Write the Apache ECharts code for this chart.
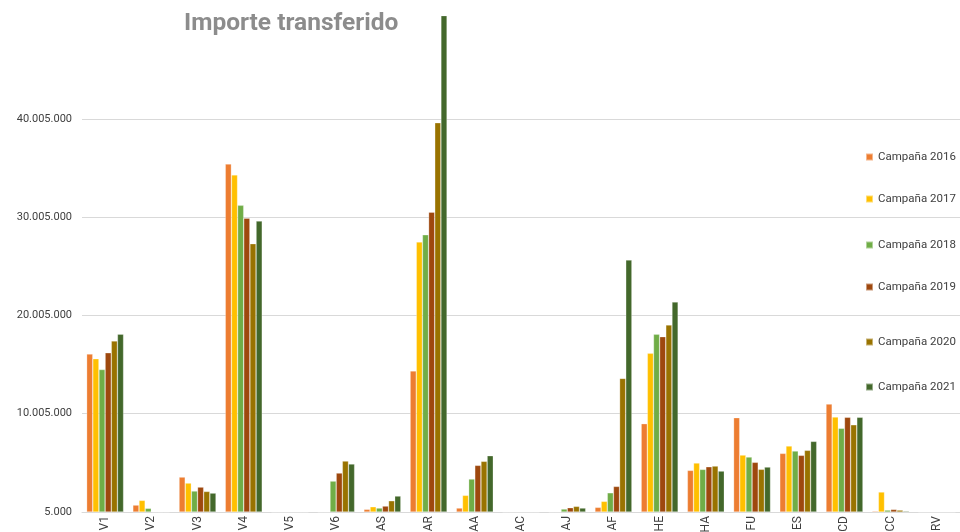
<!DOCTYPE html>
<html>
<head>
<meta charset="utf-8">
<script src="https://cdn.jsdelivr.net/npm/echarts@6/dist/echarts.min.js"></script>
<style>
    html, body { margin: 0; padding: 0; background: #ffffff; }
    #chart-id { width: 960px; height: 532px; }
</style>
</head>
<body>
<div id="chart-id"></div>
<script>
var categories = ['V1', 'V2', 'V3', 'V4', 'V5', 'V6', 'AS', 'AR', 'AA', 'AC', 'AJ', 'AF', 'HE', 'HA', 'FU', 'ES', 'CD', 'CC', 'RV'];
var seriesNames = ['Campaña 2016', 'Campaña 2017', 'Campaña 2018', 'Campaña 2019', 'Campaña 2020', 'Campaña 2021'];

// importes por campaña (euros)
var c2016 = [16070000, 710000, 3560000, 35400000, 0, 0, 280000, 14350000, 410000, 0, 0, 480000, 8990000, 4240000, 9600000, 5970000, 10990000, 100000, 0];
var c2017 = [15600000, 1190000, 2950000, 34300000, 0, 0, 540000, 27470000, 1700000, 0, 0, 1090000, 16150000, 4990000, 5800000, 6720000, 9670000, 2040000, 0];
var c2018 = [14500000, 380000, 2140000, 31200000, 0, 3150000, 410000, 28200000, 3360000, 0, 310000, 1960000, 18080000, 4340000, 5600000, 6210000, 8520000, 200000, 0];
var c2019 = [16200000, 20000, 2540000, 29900000, 0, 3970000, 610000, 30500000, 4750000, 0, 440000, 2610000, 17840000, 4610000, 5060000, 5770000, 9640000, 270000, 0];
var c2020 = [17400000, 0, 2100000, 27300000, 0, 5190000, 1150000, 39600000, 5160000, 0, 580000, 13600000, 19030000, 4680000, 4350000, 6280000, 8880000, 200000, 0];
var c2021 = [18100000, 20000, 1930000, 29600000, 0, 4890000, 1630000, 50500000, 5730000, 0, 410000, 25640000, 21370000, 4170000, 4580000, 7190000, 9640000, 100000, 0];

var colors = ['#ED7D31', '#FFC000', '#70AD47', '#9E480E', '#997300', '#43682B'];
var legendTops = [151, 193, 239, 281, 336, 381];
var baseFont = "Roboto, sans-serif";

function formatMiles(v) {
    return String(Math.round(v)).replace(/\B(?=(\d{3})+(?!\d))/g, '.');
}

function plotImporte(divId) {
    var dom = document.getElementById(divId);
    var myChart = echarts.init(dom, null, { renderer: 'canvas' });
    var option;
    var allData = [c2016, c2017, c2018, c2019, c2020, c2021];

    var series = [];
    var legends = [];
    for (var i = 0; i < seriesNames.length; i++) {
        series.push({
            name: seriesNames[i],
            type: 'bar',
            barGap: '0%',
            barCategoryGap: '20%',
            clip: false,
            itemStyle: {
                color: colors[i],
                borderColor: 'rgba(255,255,255,0.45)',
                borderWidth: 0.6
            },
            data: allData[i]
        });
        legends.push({
            data: [seriesNames[i]],
            left: 865,
            top: legendTops[i],
            padding: 0,
            icon: 'rect',
            itemWidth: 7,
            itemHeight: 7,
            textStyle: {
                fontFamily: baseFont,
                fontSize: 11.5,
                color: '#404040'
            }
        });
    }

    option = {
        backgroundColor: '#ffffff',
        animation: false,
        title: {
            text: 'Importe transferido',
            left: 179,
            top: 6,
            textStyle: {
                fontFamily: baseFont,
                fontWeight: 'bold',
                fontSize: 24.5,
                color: '#8c8c8c'
            }
        },
        legend: legends,
        grid: {
            left: 82,
            right: 0,
            top: 20.5,
            bottom: 20,
            outerBoundsMode: 'none'
        },
        xAxis: {
            type: 'category',
            data: categories,
            axisLine: { lineStyle: { color: '#d9d9d9', width: 1 } },
            axisTick: { show: false },
            axisLabel: {
                rotate: 90,
                margin: 4,
                fontFamily: baseFont,
                fontSize: 12,
                color: '#404040'
            }
        },
        yAxis: {
            type: 'value',
            min: 5000,
            max: 50000000,
            interval: 10000000,
            axisLine: { show: false },
            axisTick: { show: false },
            splitLine: { showMaxLine: false, lineStyle: { color: '#d9d9d9', width: 1 } },
            axisLabel: {
                showMaxLabel: false,
                margin: 10,
                fontFamily: baseFont,
                fontSize: 11,
                color: '#404040',
                formatter: formatMiles
            }
        },
        series: series
    };

    if (option && typeof option === 'object') {
        myChart.setOption(option);
    }
}

plotImporte('chart-id');
</script>
</body>
</html>
